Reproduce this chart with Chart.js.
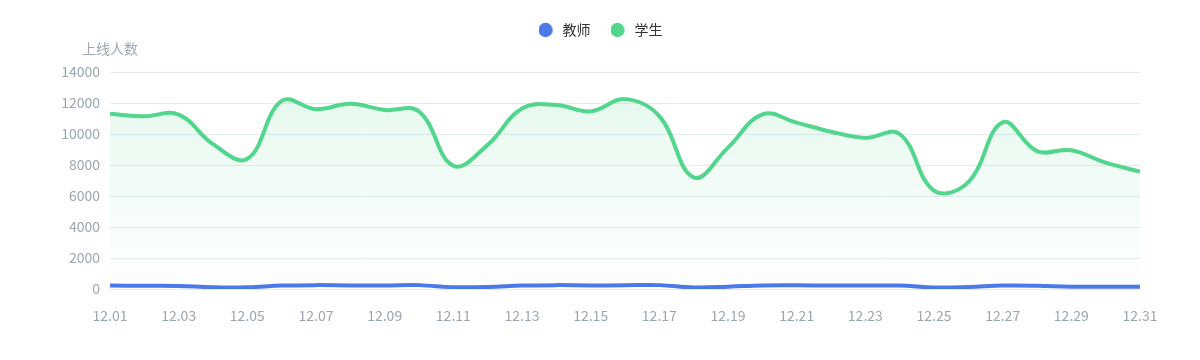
<!DOCTYPE html>
<html>
<head>
<meta charset="utf-8">
<script src="https://cdn.jsdelivr.net/npm/chart.js@4.4.1/dist/chart.umd.min.js"></script>
<style>
  html, body { margin: 0; padding: 0; background: #ffffff; }
  #wrap { width: 1200px; height: 360px; position: relative; }
</style>
</head>
<body>
<div id="wrap"><canvas id="c" width="1200" height="360"></canvas></div>
<script>
// ---- data ----
const categories = ['12.01','12.02','12.03','12.04','12.05','12.06','12.07','12.08','12.09','12.10',
                    '12.11','12.12','12.13','12.14','12.15','12.16','12.17','12.18','12.19','12.20',
                    '12.21','12.22','12.23','12.24','12.25','12.26','12.27','12.28','12.29','12.30','12.31'];
const teacherValues = [220, 210, 200, 110, 110, 220, 250, 230, 230, 250,
                       120, 130, 220, 250, 230, 240, 250, 100, 150, 230,
                       240, 220, 220, 220, 100, 130, 220, 210, 150, 150, 140];
const studentValues = [11300, 11150, 11250, 9350, 8400, 12130, 11600, 11950, 11550, 11450,
                       7950, 9300, 11650, 11870, 11460, 12250, 11150, 7200, 9120, 11270,
                       10730, 10150, 9750, 10000, 6350, 6900, 10750, 8900, 8950, 8150, 7570];
const seriesNames = ['教师', '学生'];
const yTicks = [0, 2000, 4000, 6000, 8000, 10000, 12000, 14000];
const yAxisName = '上线人数';

const FONT = "'Noto Sans CJK SC', 'Noto Sans', sans-serif";
const BLUE = '#4b79e8';
const GREEN = '#52d68e';

// legend marker: a circle drawn slightly left inside a wider canvas
function makeMarker(color) {
  const cv = document.createElement('canvas');
  cv.width = 20; cv.height = 16;
  const c = cv.getContext('2d');
  c.fillStyle = color;
  c.beginPath();
  c.arc(7, 8, 7.2, 0, Math.PI * 2);
  c.fill();
  return cv;
}
const markers = [makeMarker(BLUE), makeMarker(GREEN)];

const legendPlacePlugin = {
  id: 'legendPlace',
  afterInit(chart) {
    const lg = chart.legend;
    if (lg && !lg._patched) {
      const orig = lg.fit;
      lg.fit = function () { orig.call(this); this.height = 72; };
      lg._patched = true;
    }
  },
  afterLayout(chart) {
    const lg = chart.legend;
    if (lg) { lg.left = 2; lg.right = 1202; lg.width = 1200; }
  }
};

const yNamePlugin = {
  id: 'yName',
  afterDraw(chart) {
    const ctx = chart.ctx;
    const a = chart.chartArea;
    ctx.save();
    ctx.font = '14px ' + FONT;
    ctx.fillStyle = '#9ba6b2';
    ctx.textAlign = 'center';
    ctx.textBaseline = 'middle';
    ctx.fillText(yAxisName, a.left, a.top - 23);
    ctx.restore();
  }
};

new Chart(document.getElementById('c'), {
  type: 'line',
  data: {
    labels: categories,
    datasets: [
      {
        label: seriesNames[0],
        data: teacherValues,
        borderColor: BLUE,
        backgroundColor: BLUE,
        borderWidth: 4,
        pointRadius: 0,
        pointHoverRadius: 0,
        tension: 0.4,
        fill: false
      },
      {
        label: seriesNames[1],
        data: studentValues,
        borderColor: GREEN,
        backgroundColor: function (context) {
          const chart = context.chart;
          const a = chart.chartArea;
          if (!a) return 'rgba(82,214,142,0.12)';
          const g = chart.ctx.createLinearGradient(0, a.top, 0, a.bottom);
          g.addColorStop(0, 'rgba(82,214,142,0.16)');
          g.addColorStop(1, 'rgba(82,214,142,0)');
          return g;
        },
        borderWidth: 4,
        pointRadius: 0,
        pointHoverRadius: 0,
        tension: 0.4,
        fill: 'origin'
      }
    ]
  },
  options: {
    responsive: false,
    animation: false,
    devicePixelRatio: 1,
    layout: { padding: { top: 0, right: 60, bottom: 0, left: 0 } },
    plugins: {
      legend: {
        position: 'top',
        align: 'center',
        labels: {
          usePointStyle: true,
          boxWidth: 14,
          boxHeight: 14,
          padding: 23,
          color: '#333333',
          font: { family: FONT, size: 14 },
          generateLabels(chart) {
            return chart.data.datasets.map((ds, i) => ({
              text: ds.label,
              fillStyle: ds.borderColor,
              strokeStyle: ds.borderColor,
              lineWidth: 0,
              pointStyle: markers[i],
              hidden: false,
              datasetIndex: i,
              fontColor: '#333333'
            }));
          }
        }
      },
      tooltip: { enabled: false }
    },
    scales: {
      x: {
        type: 'category',
        offset: false,
        grid: { display: false, drawTicks: false },
        border: { display: false },
        ticks: {
          autoSkip: false,
          maxRotation: 0,
          minRotation: 0,
          padding: 18,
          color: '#9ba6b2',
          font: { family: FONT, size: 14 },
          callback: function (val, index) { return index % 2 === 0 ? categories[index] : ''; }
        },
        afterFit(scale) { scale.height = 71; }
      },
      y: {
        min: 0,
        max: 14000,
        afterBuildTicks(scale) { scale.ticks = yTicks.map(v => ({ value: v })); },
        grid: { color: '#e4ecf1', lineWidth: 1, drawTicks: false },
        border: { display: false },
        ticks: {
          padding: 10,
          color: '#9ba6b2',
          font: { family: FONT, size: 14 },
          callback: function (value) { return String(value); }
        },
        afterFit(scale) { scale.width = 110; }
      }
    }
  },
  plugins: [legendPlacePlugin, yNamePlugin]
});
</script>
</body>
</html>
